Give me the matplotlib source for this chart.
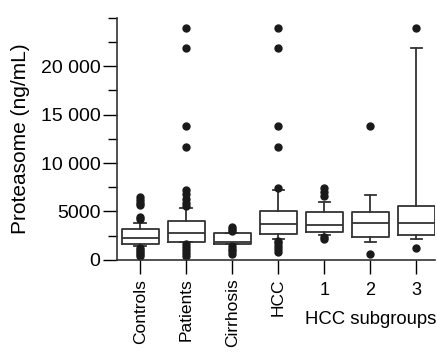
import matplotlib
matplotlib.use("Agg")
import matplotlib.pyplot as plt
from matplotlib.ticker import MultipleLocator, FixedLocator, FuncFormatter

plt.rcParams['font.family'] = ['Liberation Sans', 'DejaVu Sans']

# box statistics (ng/mL)
groups = ["Controls", "Patients", "Cirrhosis", "HCC", "1", "2", "3"]
q1 = [1650, 1880, 1650, 2650, 2850, 2400, 2580]
med = [2230, 2750, 1800, 3740, 3600, 3850, 3780]
q3 = [3160, 4060, 2750, 5080, 4900, 4900, 5570]
whislo = [1400, 1800, 1600, 2160, 2600, 1820, 2130]
whishi = [3850, 5400, 2800, 7200, 6010, 6730, 21900]
fliers = [
    [4200, 4400, 5700, 5900, 6200, 6500, 1200, 1000, 800, 600, 400],
    [5600, 5900, 6300, 6800, 7200, 11700, 13800, 21900, 24000,
     1600, 1300, 1000, 700, 400],
    [2950, 3150, 3400, 1400, 1150, 900, 650],
    [7400, 11700, 13800, 21900, 24000, 2000, 1700, 1400, 1100, 800],
    [6600, 7000, 7400, 2200, 2350],
    [13800, 650],
    [24000, 1200],
]

stats = []
for i, g in enumerate(groups):
    stats.append(dict(label=g, q1=q1[i], med=med[i], q3=q3[i],
                      whislo=whislo[i], whishi=whishi[i], fliers=fliers[i]))

fig = plt.figure(figsize=(4.37, 3.57), dpi=100)
ax = fig.add_axes([0.268, 0.272, 0.727, 0.678])

line = dict(color="#333333", linewidth=1.3)
ax.bxp(stats, positions=range(len(groups)), widths=0.8, capwidths=0.25,
       boxprops=line, whiskerprops=line, capprops=line,
       medianprops=dict(color="#333333", linewidth=1.3),
       flierprops=dict(marker="o", markerfacecolor="#1a1a1a",
                       markeredgecolor="#1a1a1a", markersize=5))

ax.set_xlim(-0.5, 6.4)
ax.set_ylim(0, 25000)
ax.yaxis.set_major_locator(FixedLocator([0, 5000, 10000, 15000, 20000]))
ax.yaxis.set_minor_locator(MultipleLocator(2500))
ax.yaxis.set_major_formatter(FuncFormatter(
    lambda v, p: f"{int(v):,}".replace(",", " ") if v >= 10000 else f"{int(v)}"))
ax.tick_params(axis="y", which="major", length=10, width=1, labelsize=14, pad=2)
ax.tick_params(axis="y", which="minor", length=6.5, width=1)
ax.tick_params(axis="x", length=10, width=1, labelsize=12.5)

ax.set_xticks(range(len(groups)))
ax.set_xticklabels(groups[:4] + ["", "", ""])
for lbl in ax.get_xticklabels()[:4]:
    lbl.set_rotation(90)
    lbl.set_va("top")
    lbl.set_ha("center")

# subgroup numbers sit lower than the rotated labels
xform = ax.get_xaxis_transform()
for pos, g in zip(range(4, 7), groups[4:]):
    ax.text(pos, -0.125, g, transform=xform, ha="center", va="center",
            fontsize=13)
ax.text(5, -0.245, "HCC subgroups", transform=xform, ha="center",
        va="center", fontsize=13.3)

ax.set_ylabel("Proteasome (ng/mL)", fontsize=15, labelpad=8)

for s in ["top", "right"]:
    ax.spines[s].set_visible(False)
for s in ["left", "bottom"]:
    ax.spines[s].set_color("#333333")
    ax.spines[s].set_linewidth(1.2)

fig.savefig("out.png", dpi=100)
